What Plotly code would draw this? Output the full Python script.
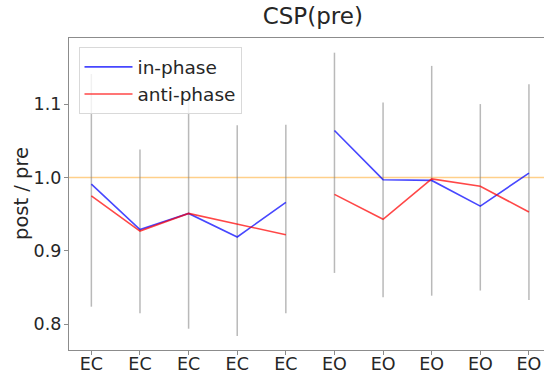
import plotly.graph_objects as go

categories = ["EC", "EC", "EC", "EC", "EC", "EO", "EO", "EO", "EO", "EO"]
in_phase = [0.991, 0.929, 0.951, 0.919, 0.966, 1.064, 0.997, 0.996, 0.961, 1.006]
anti_phase = [0.975, 0.927, 0.951, 0.937, 0.922, 0.977, 0.943, 0.998, 0.988, 0.953]
err_low = [0.824, 0.815, 0.794, 0.784, 0.815, 0.870, 0.837, 0.839, 0.846, 0.833]
err_high = [1.141, 1.038, 1.107, 1.071, 1.072, 1.170, 1.102, 1.152, 1.100, 1.127]
groups = [[0, 1, 2, 3, 4], [5, 6, 7, 8, 9]]
y_ticks = [0.8, 0.9, 1.0, 1.1]
y_tick_labels = ["0.8", "0.9", "1.0", "1.1"]
reference_level = 1.0

FONT = "DejaVu Sans"
TXT = "#262626"

def seg(values):
    xs, ys = [], []
    for g in groups:
        for i in g:
            xs.append(i)
            ys.append(values[i])
        xs.append(None)
        ys.append(None)
    return xs, ys

ex, ey = [], []
for i in range(len(categories)):
    ex += [i, i, None]
    ey += [err_low[i], err_high[i], None]

fig = go.Figure()
fig.add_trace(go.Scatter(x=ex, y=ey, mode="lines", showlegend=False,
                         line=dict(color="rgba(128,128,128,0.55)", width=1.5),
                         hoverinfo="skip"))
xs, ys = seg(in_phase)
fig.add_trace(go.Scatter(x=xs, y=ys, mode="lines", name="in-phase",
                         line=dict(color="rgba(0,0,255,0.72)", width=1.6)))
xs, ys = seg(anti_phase)
fig.add_trace(go.Scatter(x=xs, y=ys, mode="lines", name="anti-phase",
                         line=dict(color="rgba(255,0,0,0.72)", width=1.6)))

fig.add_shape(type="line", xref="paper", x0=0, x1=1, yref="y",
              y0=reference_level, y1=reference_level,
              line=dict(color="#ffd08a", width=1.3), layer="below")

fig.add_annotation(text="post / pre", xref="paper", yref="paper", x=0, y=0.5,
                   xanchor="center", yanchor="middle", xshift=-48, textangle=-90,
                   showarrow=False, font=dict(family=FONT, size=19.5, color=TXT))

fig.update_layout(
    width=544, height=376,
    margin=dict(l=69, r=0, t=38, b=26),
    paper_bgcolor="white", plot_bgcolor="white",
    font=dict(family=FONT, color=TXT, size=17.5),
    title=dict(text="CSP(pre)", x=0.575, xanchor="center", y=0.935, yanchor="bottom",
               font=dict(family=FONT, size=23, color=TXT)),
    showlegend=True,
    legend=dict(x=0.02, y=0.97, xanchor="left", yanchor="top",
                bgcolor="rgba(255,255,255,0.8)", bordercolor="#d9d9d9", borderwidth=1,
                font=dict(family=FONT, size=18.5, color=TXT),
                itemwidth=48, tracegroupgap=0),
    xaxis=dict(range=[-0.46, 9.31], tickmode="array",
               tickvals=list(range(len(categories))), ticktext=categories,
               showline=True, linecolor="#8c8c8c", linewidth=1.2, mirror=True,
               ticks="outside", ticklen=4, tickcolor="#8c8c8c",
               showgrid=False, zeroline=False, automargin=False,
               ticklabelstandoff=-6,
               tickfont=dict(family=FONT, size=17.5, color=TXT)),
    yaxis=dict(range=[0.765, 1.19], tickmode="array", tickvals=y_ticks,
               ticktext=y_tick_labels,
               showline=True, linecolor="#8c8c8c", linewidth=1.2, mirror=False,
               ticks="outside", ticklen=4, tickcolor="#8c8c8c",
               showgrid=False, zeroline=False, automargin=False,
               ticklabelstandoff=-1,
               tickfont=dict(family=FONT, size=17.5, color=TXT)),
)

fig.write_html("out.html")
